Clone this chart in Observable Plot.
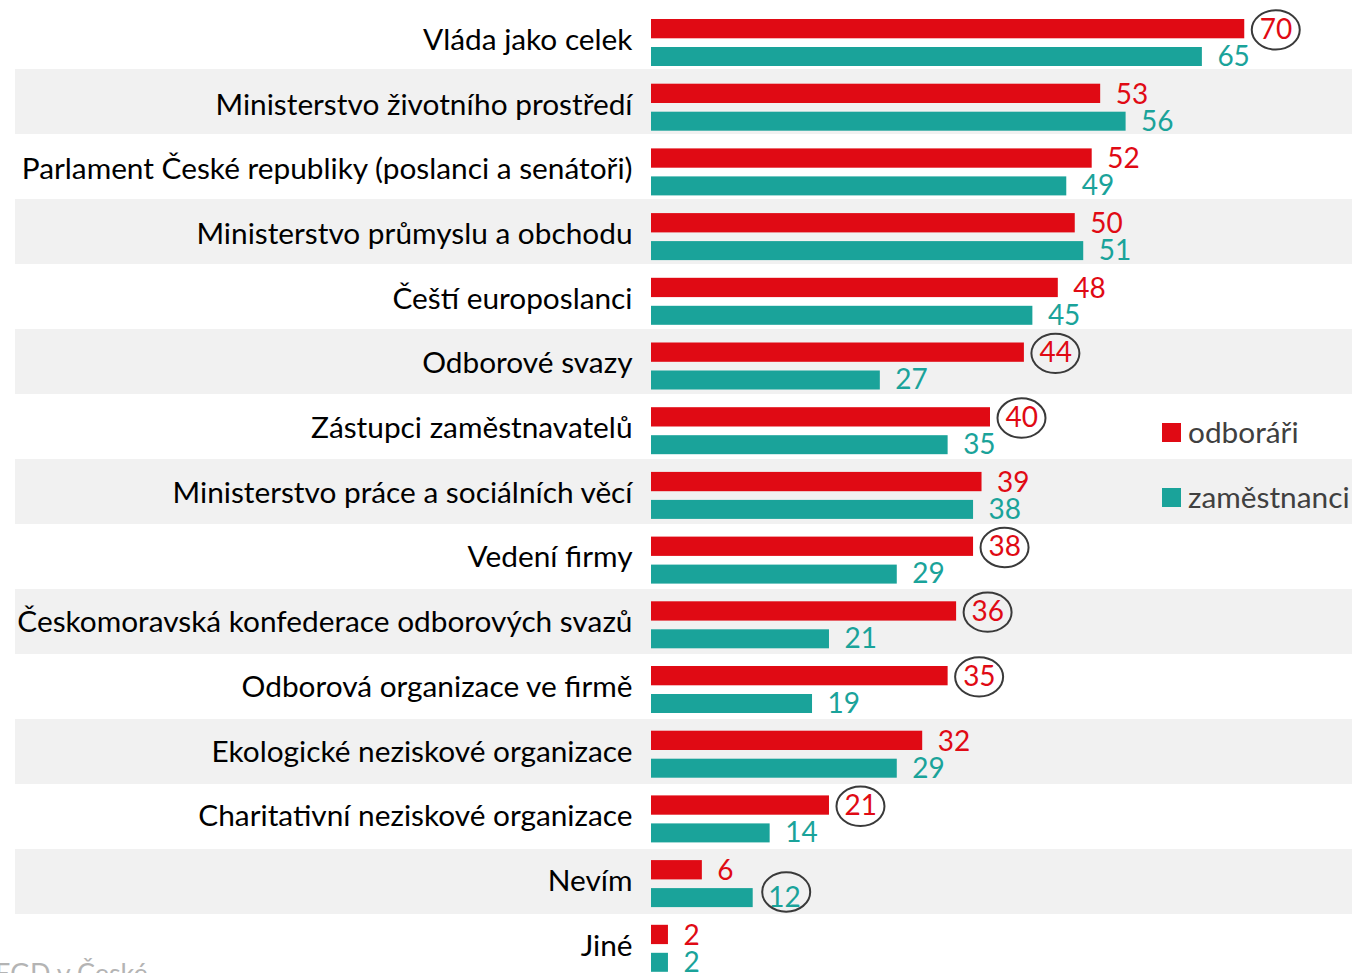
<!DOCTYPE html>
<html>
<head>
<meta charset="utf-8">
<script src="https://cdn.jsdelivr.net/npm/d3@7"></script>
<script src="https://cdn.jsdelivr.net/npm/@observablehq/plot@0.6"></script>
<style>
  html, body { margin: 0; padding: 0; background: #fff; overflow: hidden; }
  #wrap { position: relative; width: 1352px; height: 973px; overflow: hidden; font-family: Lato, sans-serif; }
  #wrap svg { position: absolute; left: 0; top: 0; overflow: visible; }
  .leg { position: absolute; left: 1162px; font: 29.8px Lato, sans-serif; color: #404040; line-height: 28px; white-space: nowrap; }
  .leg span.sw { position: absolute; left: 0; width: 19px; height: 19px; }
  .leg span.tx { position: absolute; left: 26px; top: 0; }
  #foot { position: absolute; left: -5px; top: 959px; font: 27px Lato, sans-serif; line-height: 27px; color: #b4b4b4; white-space: nowrap; }
</style>
</head>
<body>
<div id="wrap">
  <div id="bg"></div>
  <div id="main"></div>
</div>
<script>
// ---- data ----
const categories = [
  "Vláda jako celek",
  "Ministerstvo životního prostředí",
  "Parlament České republiky (poslanci a senátoři)",
  "Ministerstvo průmyslu a obchodu",
  "Čeští europoslanci",
  "Odborové svazy",
  "Zástupci zaměstnavatelů",
  "Ministerstvo práce a sociálních věcí",
  "Vedení firmy",
  "Českomoravská konfederace odborových svazů",
  "Odborová organizace ve firmě",
  "Ekologické neziskové organizace",
  "Charitativní neziskové organizace",
  "Nevím",
  "Jiné"
];
const odborari     = [70, 53, 52, 50, 48, 44, 40, 39, 38, 36, 35, 32, 21, 6, 2];
const zamestnanci  = [65, 56, 49, 51, 45, 27, 35, 38, 29, 21, 19, 29, 14, 12, 2];
const circledOdborari    = ["Vláda jako celek", "Odborové svazy", "Zástupci zaměstnavatelů", "Vedení firmy",
                            "Českomoravská konfederace odborových svazů", "Odborová organizace ve firmě",
                            "Charitativní neziskové organizace"];
const circledZamestnanci = ["Nevím"];
const seriesNames  = ["odboráři", "zaměstnanci"];
const footerText   = "EGD v České";

const RED = "#E00A14", TEAL = "#1AA39A", INK = "#3a3a3a";

const rows = categories.map((c, i) => ({cat: c, odb: odborari[i], zam: zamestnanci[i]}));
const shaded = categories.filter((c, i) => i % 2 === 1);

// elliptical ring symbol
const ellipseSymbol = {
  draw(ctx, size) {
    const r = Math.sqrt(size / Math.PI);
    const rx = r, ry = r * 0.82, k = 0.5523;
    ctx.moveTo(rx, 0);
    ctx.bezierCurveTo(rx, ry * k, rx * k, ry, 0, ry);
    ctx.bezierCurveTo(-rx * k, ry, -rx, ry * k, -rx, 0);
    ctx.bezierCurveTo(-rx, -ry * k, -rx * k, -ry, 0, -ry);
    ctx.bezierCurveTo(rx * k, -ry, rx, -ry * k, rx, 0);
    ctx.closePath();
  }
};

// ---- background bands ----
const bg = Plot.plot({
  width: 1352, height: 973, margin: 0,
  x: {domain: [0, 1], range: [15, 1352], axis: null},
  y: {domain: categories, range: [4, 979], padding: 0, round: false, axis: null},
  marks: [
    Plot.barX(shaded, {y: d => d, x1: 0, x2: 1, fill: "#f1f1f1"})
  ]
});
document.getElementById("bg").appendChild(bg);

// ---- main chart ----
const chart = Plot.plot({
  width: 1352, height: 973,
  marginLeft: 651, marginRight: 23, marginTop: 0, marginBottom: 0,
  style: {fontFamily: "Lato, sans-serif", background: "transparent"},
  x: {domain: [0, 80], axis: null},
  y: {domain: categories, range: [4, 974.5], padding: 0, round: false, axis: null},
  marks: [
    Plot.barX(rows, {y: "cat", x: "odb", fill: RED, insetTop: 15, insetBottom: 30.4}),
    Plot.barX(rows, {y: "cat", x: "zam", fill: TEAL, insetTop: 43, insetBottom: 2.7}),
    Plot.text(rows, {y: "cat", frameAnchor: "left", text: "cat", textAnchor: "end", dx: -19, dy: 3.5,
                     fontSize: 29.8, fill: "#000"}),
    Plot.text(rows, {y: "cat", x: "odb", text: d => String(d.odb), textAnchor: "start", dx: 15, dy: -7,
                     fontSize: 28, fill: RED}),
    Plot.text(rows, {y: "cat", x: "zam", text: d => String(d.zam), textAnchor: "start", dx: 15, dy: 20,
                     fontSize: 28, fill: TEAL}),
    Plot.dot(rows.filter(d => circledOdborari.includes(d.cat)),
             {y: "cat", x: "odb", r: 24, dx: 31, dy: -7, symbol: ellipseSymbol,
              fill: "none", stroke: INK, strokeWidth: 2}),
    Plot.dot(rows.filter(d => circledZamestnanci.includes(d.cat)),
             {y: "cat", x: "zam", r: 24, dx: 33, dy: 14, symbol: ellipseSymbol,
              fill: "none", stroke: INK, strokeWidth: 2})
  ]
});
document.getElementById("main").appendChild(chart);

// ---- legend ----
const wrap = document.getElementById("wrap");
const legTops = [418, 483];
seriesNames.forEach((name, i) => {
  const d = document.createElement("div");
  d.className = "leg";
  d.style.top = legTops[i] + "px";
  d.innerHTML = `<span class="sw" style="top:5px;background:${i === 0 ? RED : TEAL}"></span><span class="tx">${name}</span>`;
  wrap.appendChild(d);
});

// ---- clipped source footer ----
const f = document.createElement("div");
f.id = "foot";
f.textContent = footerText;
wrap.appendChild(f);
</script>
</body>
</html>
